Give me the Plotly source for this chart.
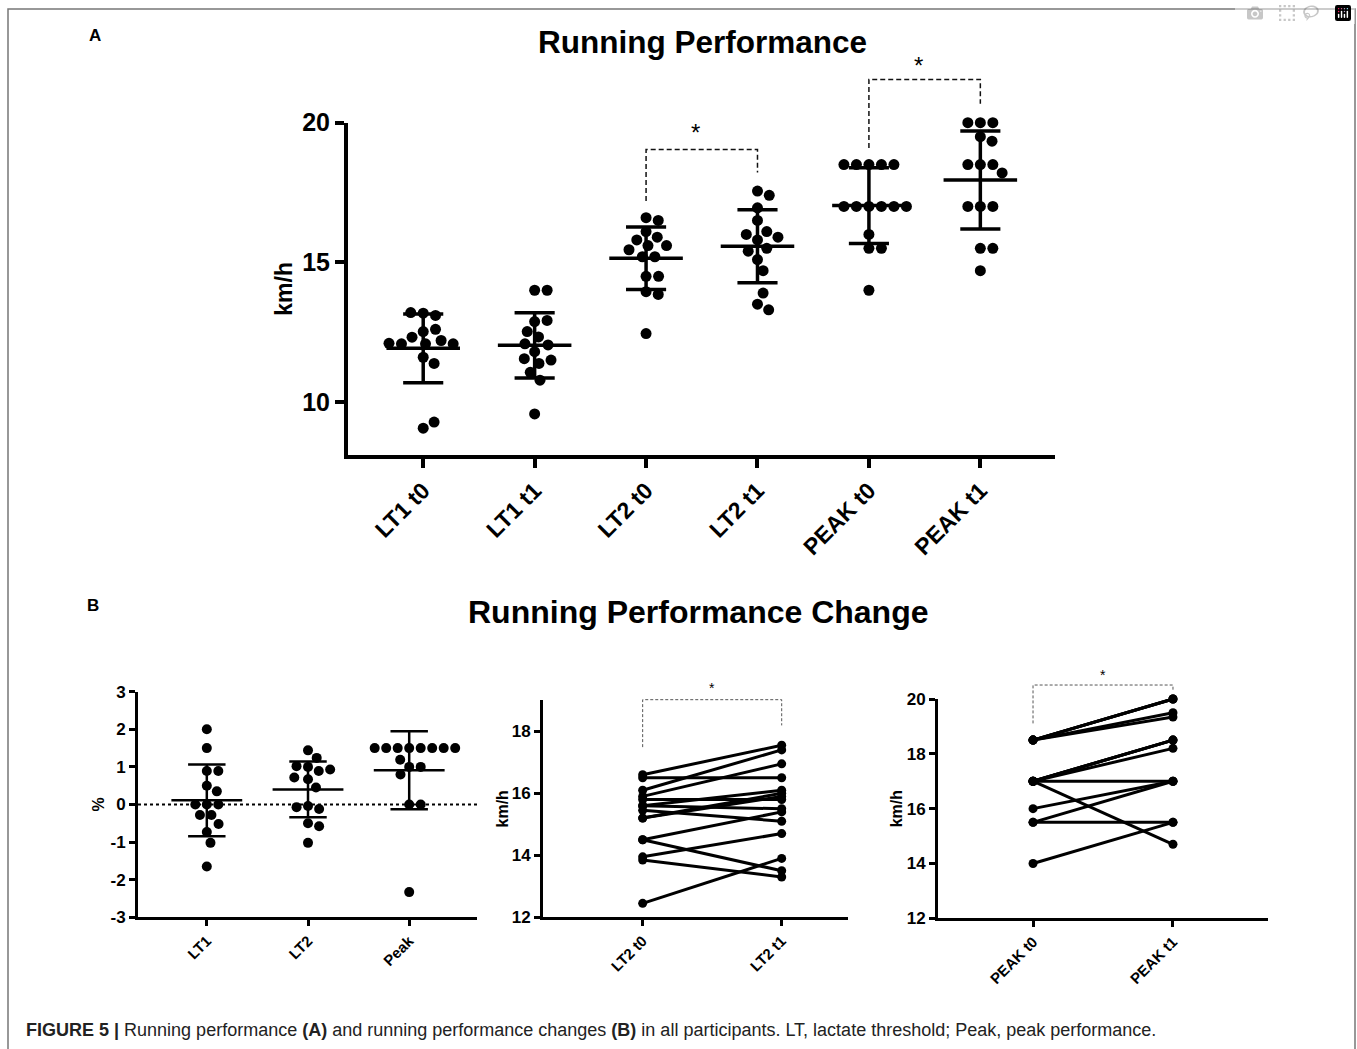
import numpy as np
import plotly.graph_objects as go

W, H = 1357, 1049

# ---------------- data ----------------
cats_a = ["LT1 t0", "LT1 t1", "LT2 t0", "LT2 t1", "PEAK t0", "PEAK t1"]
lt1_t0 = [13.18, 13.1, 13.2, 12.52, 12.6, 12.32, 12.2, 12.08, 12.08, 12.08, 12.1, 11.6, 11.38, 9.06, 9.28]
lt1_t1 = [14.0, 14.0, 12.88, 12.92, 12.52, 12.33, 12.08, 12.04, 11.8, 11.55, 11.38, 11.5, 11.06, 10.78, 9.57]
# paired order (same participant index)
lt2_t0 = [16.6, 16.5, 16.1, 15.9, 15.8, 15.6, 15.6, 15.45, 15.2, 15.2, 14.5, 14.5, 13.95, 13.85, 12.45]
lt2_t1 = [17.55, 16.5, 17.4, 16.95, 15.8, 16.1, 15.5, 15.1, 16.0, 15.9, 15.4, 13.5, 14.7, 13.3, 13.9]
peak_t0 = [18.5, 18.5, 18.5, 18.5, 18.5, 17, 17, 17, 17, 17, 17, 16, 15.5, 15.5, 14]
peak_t1 = [20, 20, 20, 19.5, 19.34, 18.5, 18.5, 18.5, 18.2, 17, 14.7, 17, 17, 15.5, 15.5]
a_yticks = [10, 15, 20]

cats_change = ["LT1", "LT2", "Peak"]
lt1_change = [2.0, 1.5, 0.89, 0.89, 0.5, 0.35, 0, 0, 0, -0.28, -0.28, -0.52, -0.73, -1.02, -1.65]
lt2_change = [1.44, 1.24, 1.0, 1.02, 0.89, 0.93, 0.67, 0.72, 0.45, -0.04, -0.12, -0.07, -0.5, -0.58, -1.02]
peak_change = [1.5, 1.5, 1.5, 1.5, 1.5, 1.5, 1.5, 1.5, 1.0, 1.0, 1.19, 0.8, 0, 0, -2.33]
change_yticks = [-3, -2, -1, 0, 1, 2, 3]
change_yticktext = ["-3", "-2", "-1", "0", "1", "2", "3"]

cats_lt2 = ["LT2 t0", "LT2 t1"]
lt2_yticks = [12, 14, 16, 18]
cats_peak = ["PEAK t0", "PEAK t1"]
peak_yticks = [12, 14, 16, 18, 20]

# significance brackets: (left x, right x, left bottom, top, right bottom, star level)
sig_a_lt2 = (2, 3, 17.2, 19.04, 18.22, 19.85)
sig_a_peak = (4, 5, 19.09, 21.55, 20.68, 22.25)
sig_b_lt2 = (0, 1, 17.49, 19.02, 18.19, 19.5)
sig_b_peak = (0, 1, 19.11, 20.51, 20.27, 21.0)

# ---------------- layout geometry (pixels) ----------------
def PX(x):
    return x / W


def PY(y):
    return 1 - y / H


A_X = (348, 1055); A_XR = [-0.675, 5.67]
A_Y = (455, 122.7); A_YR = [8.1, 20]
B1_X = (138, 477); B1_XR = [-0.68, 2.67]
B1_Y = (917.3, 691.7); B1_YR = [-3, 3]
B2_X = (543, 848); B2_XR = [-0.717, 1.477]
B2_Y = (917.3, 700.3); B2_YR = [12, 19]
B3_X = (938, 1268); B3_XR = [-0.679, 1.679]
B3_Y = (918.3, 699); B3_YR = [12, 20]


def scale(pxs, rng):
    return abs(pxs[1] - pxs[0]) / (rng[1] - rng[0])


def ypaper(v, ypx, rng):
    return PY(ypx[0] + (v - rng[0]) / (rng[1] - rng[0]) * (ypx[1] - ypx[0]))


def swarm(vals, sx, sy, D):
    """greedy beeswarm offsets (in x data units)"""
    placed = []
    out = []
    for v in vals:
        y = v * sy
        forb = []
        for (yy, xx) in placed:
            dy = abs(y - yy)
            if dy < D:
                w = np.sqrt(D * D - dy * dy)
                forb.append((xx - w, xx + w))
        cands = [0.0] + [a for a, b in forb] + [b for a, b in forb]
        cands.sort(key=lambda c: (round(abs(c), 6), -c))
        x = 0.0
        for c in cands:
            if all(not (a + 1e-6 < c < b - 1e-6) for a, b in forb):
                x = c
                break
        placed.append((y, x))
        out.append(x / sx)
    return out


def mean_sd(i, vals, hm, hc):
    m = float(np.mean(vals)); s = float(np.std(vals, ddof=1))
    xs = [i - hm, i + hm, None, i, i, None, i - hc, i + hc, None, i - hc, i + hc]
    ys = [m, m, None, m + s, m - s, None, m + s, m + s, None, m - s, m - s]
    return xs, ys


fig = go.Figure()
FONT = "Liberation Sans, Arial, sans-serif"

# ---------------- Panel A ----------------
sxA, syA = scale(A_X, A_XR), scale(A_Y, A_YR)
groups_a = [lt1_t0, lt1_t1, lt2_t0, lt2_t1, peak_t0, peak_t1]
for i, g in enumerate(groups_a):
    offs = swarm(g, sxA, syA, 12.5)
    fig.add_trace(go.Scatter(x=[i + o for o in offs], y=g, mode="markers",
                             marker=dict(size=11, color="black"), cliponaxis=False,
                             xaxis="x", yaxis="y", showlegend=False, hoverinfo="y"))
    xs, ys = mean_sd(i, g, 0.33, 0.18)
    fig.add_trace(go.Scatter(x=xs, y=ys, mode="lines", line=dict(color="black", width=3.5),
                             cliponaxis=False, xaxis="x", yaxis="y", showlegend=False, hoverinfo="skip"))

# ---------------- Panel B left ----------------
sx1, sy1 = scale(B1_X, B1_XR), scale(B1_Y, B1_YR)
fig.add_trace(go.Scatter(x=B1_XR, y=[0, 0], mode="lines", line=dict(color="black", width=2, dash="dot"),
                         xaxis="x2", yaxis="y2", showlegend=False, hoverinfo="skip"))
for i, g in enumerate([lt1_change, lt2_change, peak_change]):
    offs = swarm(g, sx1, sy1, 11.5)
    fig.add_trace(go.Scatter(x=[i + o for o in offs], y=g, mode="markers",
                             marker=dict(size=10, color="black"), cliponaxis=False,
                             xaxis="x2", yaxis="y2", showlegend=False, hoverinfo="y"))
    xs, ys = mean_sd(i, g, 0.35, 0.185)
    fig.add_trace(go.Scatter(x=xs, y=ys, mode="lines", line=dict(color="black", width=2.5),
                             cliponaxis=False, xaxis="x2", yaxis="y2", showlegend=False, hoverinfo="skip"))


# ---------------- Panel B middle / right ----------------
def paired(t0, t1, xa, ya):
    xs, ys = [], []
    for a, b in zip(t0, t1):
        xs += [0, 1, None]
        ys += [a, b, None]
    fig.add_trace(go.Scatter(x=xs, y=ys, mode="lines+markers",
                             line=dict(color="black", width=3),
                             marker=dict(size=9, color="black"), cliponaxis=False,
                             xaxis=xa, yaxis=ya, showlegend=False, hoverinfo="y"))


paired(lt2_t0, lt2_t1, "x3", "y3")
paired(peak_t0, peak_t1, "x4", "y4")


# ---------------- significance brackets (x in data, y converted to paper) ----------------
shapes = []
ann = []


def bracket(sig, xa, ypx, rng, width, color, dash, star_size):
    x0, x1, yl, yt, yr, ys = sig
    p = [ypaper(v, ypx, rng) for v in (yl, yt, yr)]
    shapes.append(dict(type="path", xref=xa, yref="paper",
                       path=f"M {x0},{p[0]} L {x0},{p[1]} L {x1},{p[1]} L {x1},{p[2]}",
                       line=dict(color=color, width=width, dash=dash)))
    ann.append(dict(x=(x0 + x1) / 2, y=ypaper(ys, ypx, rng), xref=xa, yref="paper", text="*",
                    showarrow=False, xanchor="center", yanchor="middle", yshift=-0.22 * star_size,
                    xshift=-6 if star_size > 15 else 0,
                    font=dict(size=star_size, family=FONT, color="black")))


bracket(sig_a_lt2, "x", A_Y, A_YR, 1.5, "#111", "5px,3px", 24)
bracket(sig_a_peak, "x", A_Y, A_YR, 1.5, "#111", "5px,3px", 24)
bracket(sig_b_lt2, "x3", B2_Y, B2_YR, 1, "#555", "3px,2px", 14)
bracket(sig_b_peak, "x4", B3_Y, B3_YR, 1, "#555", "3px,2px", 14)


# ---------------- axes ----------------
def xax(dom_px, rng, lw, tl, **kw):
    d = dict(domain=[PX(dom_px[0]), PX(dom_px[1])], range=rng, showline=True, linecolor="black",
             linewidth=lw, ticks="outside", ticklen=tl, tickwidth=lw, tickcolor="black",
             showgrid=False, zeroline=False, fixedrange=True, automargin=False)
    d.update(kw)
    return d


def yax(dom_px, rng, lw, tl, **kw):
    d = dict(domain=[PY(dom_px[0]), PY(dom_px[1])], range=rng, showline=True, linecolor="black",
             linewidth=lw, ticks="outside", ticklen=tl, tickwidth=lw, tickcolor="black",
             showgrid=False, zeroline=False, fixedrange=True, automargin=False)
    d.update(kw)
    return d


def bf(size):
    return dict(size=size, family=FONT, color="black", weight="bold")


fig.update_layout(
    width=W, height=H, margin=dict(l=0, r=0, t=0, b=0, pad=0, autoexpand=False),
    paper_bgcolor="white", plot_bgcolor="rgba(0,0,0,0)",
    font=dict(family=FONT, color="black"),
    xaxis=xax(A_X, A_XR, 4, 9, anchor="y", tickvals=list(range(len(cats_a))), ticktext=cats_a,
              tickangle=-45, tickfont=bf(23)),
    yaxis=yax(A_Y, A_YR, 4, 9, anchor="x", tickvals=a_yticks, tickfont=bf(25),
              title=dict(text="<b>km/h</b>", font=bf(23), standoff=4)),
    xaxis2=xax(B1_X, B1_XR, 3, 6, anchor="y2", tickvals=list(range(len(cats_change))), ticktext=cats_change,
               tickangle=-45, tickfont=bf(15)),
    yaxis2=yax(B1_Y, B1_YR, 3, 6, anchor="x2", tickvals=change_yticks, ticktext=change_yticktext,
               tickfont=bf(17), title=dict(text="<b>%</b>", font=bf(16), standoff=2)),
    xaxis3=xax(B2_X, B2_XR, 3, 6, anchor="y3", tickvals=[0, 1], ticktext=cats_lt2,
               tickangle=-45, tickfont=bf(15)),
    yaxis3=yax(B2_Y, B2_YR, 3, 6, anchor="x3", tickvals=lt2_yticks, tickfont=bf(17),
               title=dict(text="<b>km/h</b>", font=bf(16), standoff=0)),
    xaxis4=xax(B3_X, B3_XR, 3, 6, anchor="y4", tickvals=[0, 1], ticktext=cats_peak,
               tickangle=-45, tickfont=bf(15)),
    yaxis4=yax(B3_Y, B3_YR, 3, 6, anchor="x4", tickvals=peak_yticks, tickfont=bf(17),
               title=dict(text="<b>km/h</b>", font=bf(16), standoff=1)),
)


def txt(x, y, s, size, xanchor="center", bold=True, color="black"):
    ann.append(dict(x=PX(x), y=PY(y), xref="paper", yref="paper", text=s, showarrow=False,
                    xanchor=xanchor, yanchor="middle",
                    font=dict(size=size, family=FONT, color=color,
                              weight="bold" if bold else "normal")))


txt(95, 35, "A", 17)
txt(93, 605, "B", 17)
txt(702, 42, "Running Performance", 31.5)
txt(698, 612, "Running Performance Change", 32)
txt(24, 1030, "<b>FIGURE 5 |</b> Running performance <b>(A)</b> and running performance changes "
              "<b>(B)</b> in all participants. LT, lactate threshold; Peak, peak performance.",
    18, xanchor="left", bold=False, color="#222")

shapes.append(dict(type="rect", xref="paper", yref="paper", x0=PX(8), x1=PX(1355), y0=-0.05, y1=PY(9),
                   line=dict(color="#777", width=1.5), fillcolor="rgba(0,0,0,0)", layer="below"))

fig.update_layout(annotations=ann, shapes=shapes)

fig.write_html("out.html", post_script="document.body.style.margin='0px';")
